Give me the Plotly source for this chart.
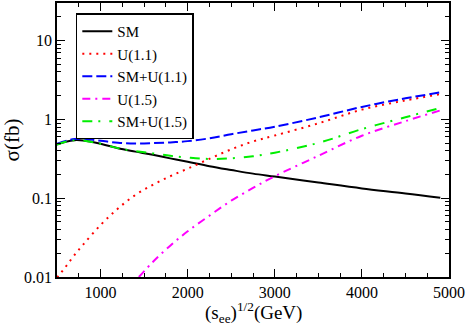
import plotly.graph_objects as go

# Centre-of-mass energy grid (GeV)
energy = [500, 600, 700, 800, 1000, 1200, 1400, 1600, 1800, 2000, 2250, 2500,
          2750, 3000, 3500, 4000, 4500, 4900]

sm = [0.48, 0.52, 0.545, 0.54, 0.49, 0.43, 0.39, 0.355, 0.32, 0.29, 0.255, 0.228,
      0.205, 0.188, 0.158, 0.133, 0.115, 0.101]

u11 = [0.0098, 0.0135, 0.019, 0.0257, 0.0457, 0.074, 0.11, 0.148, 0.19, 0.237, 0.316, 0.417,
       0.525, 0.624, 0.89, 1.33, 1.74, 2.09]

sm_u11 = [0.49, 0.533, 0.565, 0.567, 0.537, 0.505, 0.495, 0.50, 0.51, 0.53, 0.575, 0.648,
          0.725, 0.808, 1.06, 1.44, 1.85, 2.20]

energy_u15 = [1440, 1600, 1800, 2000, 2250, 2500, 2750, 3000, 3500, 4000, 4500, 4900]
u15 = [0.01, 0.0155, 0.025, 0.038, 0.06, 0.093, 0.135, 0.19, 0.345, 0.62, 0.95, 1.30]

sm_u15 = [0.48, 0.52, 0.545, 0.54, 0.49, 0.432, 0.395, 0.37, 0.345, 0.328, 0.315, 0.321,
          0.34, 0.378, 0.503, 0.753, 1.065, 1.40]

y_tickvals = [0.01, 0.1, 1, 10]
y_ticktext = ["0.01", "0.1", "1", "10"]
x_tickvals = [1000, 2000, 3000, 4000, 5000]

x_title = "(s<sub>ee</sub>)<sup>1/2</sup>(GeV)"
y_title = "σ(fb)"

FONT = "Liberation Serif"

fig = go.Figure()
fig.add_trace(go.Scatter(x=energy, y=sm, name="SM", mode="lines",
                         line=dict(color="black", width=2, shape="spline")))
fig.add_trace(go.Scatter(x=energy, y=u11, name="U(1.1)", mode="lines",
                         line=dict(color="red", width=2, dash="2px,5px", shape="spline")))
fig.add_trace(go.Scatter(x=energy, y=sm_u11, name="SM+U(1.1)", mode="lines",
                         line=dict(color="blue", width=2, dash="10px,4px", shape="spline")))
fig.add_trace(go.Scatter(x=energy_u15, y=u15, name="U(1.5)", mode="lines",
                         line=dict(color="magenta", width=2, dash="8px,5px,2px,5px", shape="spline")))
fig.add_trace(go.Scatter(x=energy, y=sm_u15, name="SM+U(1.5)", mode="lines",
                         line=dict(color="#00ee00", width=2, dash="10px,6px,2px,9px", shape="spline")))

fig.update_layout(
    template="none",
    width=468, height=332,
    margin=dict(l=57, r=19, t=3, b=55, autoexpand=False),
    paper_bgcolor="white", plot_bgcolor="white",
    font=dict(family=FONT, size=16, color="black"),
    showlegend=True,
    legend=dict(x=0.048, y=0.962, xanchor="left", yanchor="top",
                bgcolor="white", bordercolor="black", borderwidth=1.5,
                font=dict(family=FONT, size=15), itemwidth=30,
                tracegroupgap=0),
    annotations=[dict(text=x_title, xref="paper", yref="paper", x=0.5, y=-0.13,
                      xanchor="center", yanchor="middle", showarrow=False,
                      font=dict(family=FONT, size=19, color="black"))],
)
fig.update_xaxes(
    range=[500, 5000], tickvals=x_tickvals, ticks="inside", ticklen=8, tickwidth=1,
    tickcolor="black", automargin=False,
    showline=True, linecolor="black", linewidth=1.5, mirror="allticks",
    showgrid=False, zeroline=False, tickfont=dict(family=FONT, size=16),
    minor=dict(dtick=250, tick0=500, ticks="inside", ticklen=4, tickcolor="black", showgrid=False),
)
fig.update_yaxes(
    type="log", range=[-2, 1.477], tickvals=y_tickvals, ticktext=y_ticktext,
    ticks="inside", ticklen=8, tickwidth=1, tickcolor="black", automargin=False,
    showline=True, linecolor="black", linewidth=1.5, mirror="allticks",
    showgrid=False, zeroline=False, tickfont=dict(family=FONT, size=16),
    minor=dict(dtick="D1", ticks="inside", ticklen=4, tickcolor="black", showgrid=False),
    title=dict(text=y_title, font=dict(family=FONT, size=21), standoff=4),
)

fig.write_html("out.html",
               config={"displayModeBar": False},
               post_script="document.body.style.margin='0';document.body.style.overflow='hidden';")
